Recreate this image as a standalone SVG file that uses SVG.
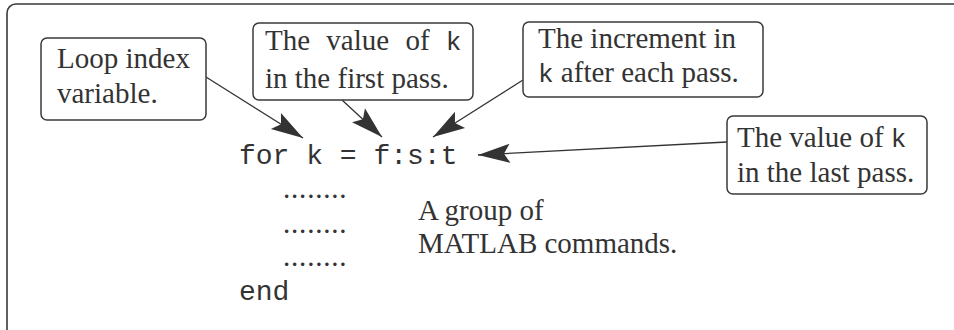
<svg xmlns="http://www.w3.org/2000/svg" width="954" height="330" viewBox="0 0 954 330">
<style>
.box{fill:#fff;stroke:#3a3a3a;stroke-width:1.5}
.t{font-family:"Liberation Serif",serif;font-size:29px;fill:#333}
.m{font-family:"Liberation Mono",monospace;fill:#333}
.conn line{stroke:#333;stroke-width:1.3}
</style>
<defs>
<marker id="ah" viewBox="-34 -10 36 20" refX="0" refY="0" markerWidth="36" markerHeight="20" markerUnits="userSpaceOnUse" orient="auto">
<path d="M0,0 L-32,-9.5 L-26,0 L-32,9.5 Z" fill="#333"/>
</marker>
</defs>
<rect x="7" y="4" width="980" height="360" rx="9" fill="#fff" stroke="#3a3a3a" stroke-width="1.6"/>
<g class="conn">
<line x1="206" y1="77" x2="303" y2="138" marker-end="url(#ah)"/>
<line x1="342" y1="100" x2="382" y2="137" marker-end="url(#ah)"/>
<line x1="523" y1="80" x2="433" y2="137" marker-end="url(#ah)"/>
<line x1="727" y1="142" x2="478" y2="155" marker-end="url(#ah)"/>
</g>
<g id="n1">
<rect class="box" x="41" y="38" width="165" height="82" rx="6"/>
<text class="t" font-family="Liberation Serif" x="57" y="68">Loop index</text>
<text class="t" font-family="Liberation Serif" x="57" y="103">variable.</text>
</g>
<g id="n2">
<rect class="box" x="253" y="23" width="220" height="77" rx="6"/>
<text class="t" font-family="Liberation Serif" x="265" y="50" word-spacing="9">The value of <tspan class="m" font-family="Liberation Mono" font-size="26">k</tspan></text>
<text class="t" font-family="Liberation Serif" x="265" y="88">in the first pass.</text>
</g>
<g id="n3">
<rect class="box" x="523" y="22" width="240" height="75" rx="6"/>
<text class="t" font-family="Liberation Serif" x="538" y="48">The increment in</text>
<text class="t" font-family="Liberation Serif" x="538" y="82"><tspan class="m" font-family="Liberation Mono" font-size="26">k</tspan> after each pass.</text>
</g>
<g id="n4">
<rect class="box" x="727" y="116" width="200" height="78" rx="6"/>
<text class="t" font-family="Liberation Serif" x="737" y="147">The value of <tspan class="m" font-family="Liberation Mono" font-size="26">k</tspan></text>
<text class="t" font-family="Liberation Serif" x="737" y="182">in the last pass.</text>
</g>
<g id="code">
<text class="m" font-family="Liberation Mono" font-size="28" x="239" y="164">for k = f:s:t</text>
<text class="t" font-family="Liberation Serif" x="283" y="198" letter-spacing="0.8">........</text>
<text class="t" font-family="Liberation Serif" x="283" y="233" letter-spacing="0.8">........</text>
<text class="t" font-family="Liberation Serif" x="283" y="266" letter-spacing="0.8">........</text>
<text class="m" font-family="Liberation Mono" font-size="28" x="239" y="300">end</text>
</g>
<g id="n5">
<text class="t" font-family="Liberation Serif" x="418" y="220">A group of</text>
<text class="t" font-family="Liberation Serif" x="418" y="253">MATLAB commands.</text>
</g>
</svg>
